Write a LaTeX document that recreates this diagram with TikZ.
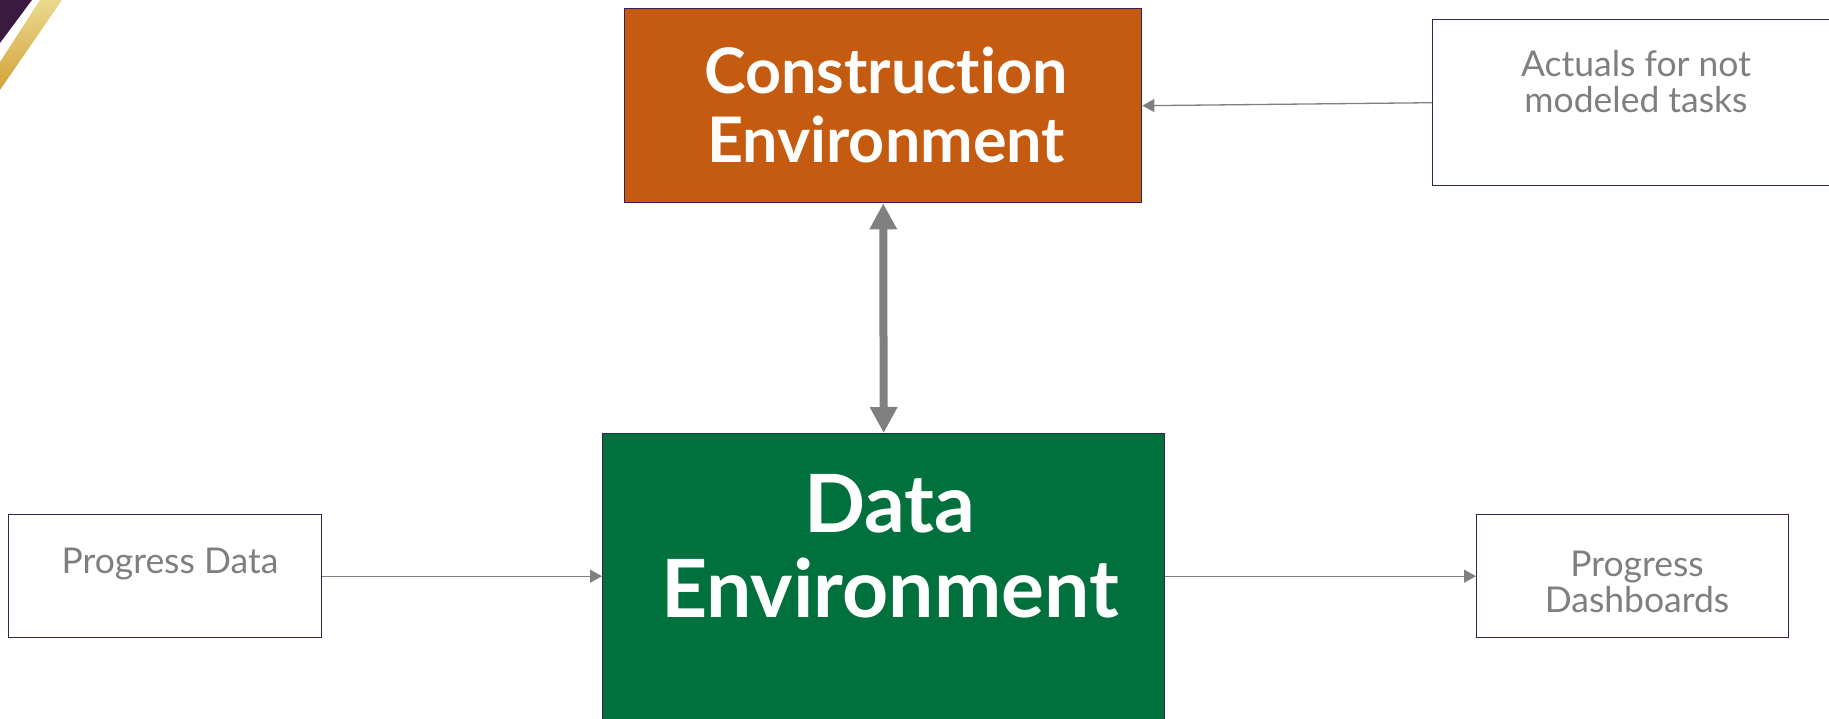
\documentclass[tikz,border=0pt]{standalone}
\usepackage{fontspec}
\setmainfont{Lato}[Ligatures=NoCommon]
\usetikzlibrary{arrows.meta}
\definecolor{consfill}{HTML}{C55A11}
\definecolor{datafill}{HTML}{00703C}
\definecolor{framecol}{HTML}{36224A}
\definecolor{txtgray}{HTML}{7F7F7F}
\definecolor{arrgray}{HTML}{808080}
\definecolor{purp}{HTML}{3A1A40}
\definecolor{goldA}{HTML}{EAD98F}
\definecolor{goldB}{HTML}{D2A33A}
\begin{document}
\begin{tikzpicture}[x=1pt,y=-1pt,
 box/.style={draw=framecol, line width=1.4pt, anchor=north west, inner sep=0pt},
 graytxt/.style={text=txtgray, font=\fontsize{35.5}{35.5}\selectfont, align=center, anchor=base, inner sep=0pt},
 constext/.style={text=white, font=\bfseries\fontsize{62.8}{69}\selectfont, align=center, anchor=base, inner sep=0pt},
 datatext/.style={text=white, font=\bfseries\fontsize{80.4}{85}\selectfont, align=center, anchor=base, inner sep=0pt},
 thinarrow/.style={draw=arrgray, line width=1.3pt, -{Triangle[length=12pt,width=13pt]}},
 bigarrow/.style={draw=arrgray, line width=8pt, {Triangle[length=26pt,width=26pt]}-{Triangle[length=26pt,width=26pt]}}
]
\useasboundingbox (0,0) rectangle (1829,718);
\fill[white] (0,0) rectangle (1829,718);
% corner decoration
\fill[purp] (0,0) -- (32,0) -- (0,43) -- cycle;
\shade[top color=goldA, bottom color=goldB] (40,0) -- (62,0) -- (0,90) -- (0,62) -- cycle;
% boxes
\node[box, fill=consfill, minimum width=517pt, minimum height=194pt] (cons) at (624,8) {};
\node[box, fill=datafill, minimum width=562pt, minimum height=292pt] (data) at (602,433) {};
\node[box, fill=white, minimum width=400pt, minimum height=166pt] (act) at (1432,19) {};
\node[box, fill=white, minimum width=313pt, minimum height=123pt] (prog) at (8,514) {};
\node[box, fill=white, minimum width=312pt, minimum height=123pt] (dash) at (1476,514) {};
% texts (anchored on the baseline of the last line)
\node[constext] (constxt) at (886,162) {Construction\\Environment};
\node[datatext] (datatxt) at (890,617) {Data\\Environment};
\node[graytxt] (acttxt) at (1636,112) {Actuals for not\\modeled tasks};
\node[graytxt] (progtxt) at (170,573) {Progress Data};
\node[graytxt] (dashtxt) at (1637,612) {Progress\\Dashboards};
% connectors
\draw[bigarrow] (cons.south) -- (data.north);
\draw[thinarrow] (act.west) -- (cons.east);
\draw[thinarrow] (prog.east) -- (prog.east -| data.west);
\draw[thinarrow] (data.east |- dash.west) -- (dash.west);
\end{tikzpicture}
\end{document}
